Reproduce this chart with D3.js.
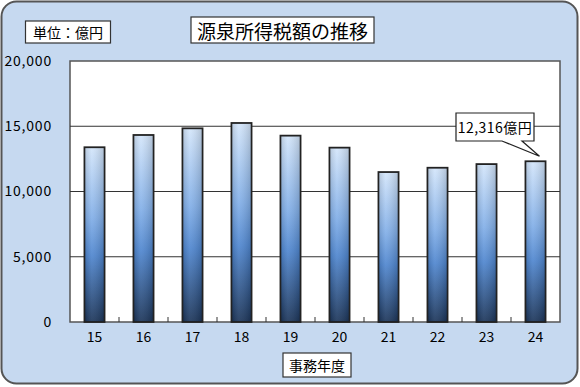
<!DOCTYPE html>
<html>
<head>
<meta charset="utf-8">
<script src="https://cdn.jsdelivr.net/npm/d3@7"></script>
<style>
body { margin:0; background:#fff; }
text { font-family:"Noto Sans CJK JP", "Noto Sans", sans-serif; }
</style>
</head>
<body>
<script>
var years = ['15','16','17','18','19','20','21','22','23','24'];
var values = [13390, 14330, 14840, 15250, 14280, 13360, 11490, 11820, 12100, 12316];
var yTicks = [0, 5000, 10000, 15000, 20000];

var W = 580, H = 387;
var margin = {left:70, right:20, top:61, bottom:65};

var svg = d3.select("body").append("svg")
	.attr("width", W)
	.attr("height", H);

var defs = svg.append("defs");
var grad = defs.append("linearGradient")
	.attr("id", "barGrad")
	.attr("x1", 0).attr("y1", 0).attr("x2", 0).attr("y2", 1);
grad.append("stop").attr("offset", "0%").attr("stop-color", "#d4e6fb");
grad.append("stop").attr("offset", "40%").attr("stop-color", "#82afe8");
grad.append("stop").attr("offset", "62%").attr("stop-color", "#4f86cf");
grad.append("stop").attr("offset", "100%").attr("stop-color", "#1c3559");

var shade = defs.append("linearGradient")
	.attr("id", "barShade")
	.attr("x1", 0).attr("y1", 0).attr("x2", 1).attr("y2", 0);
shade.append("stop").attr("offset", "0%").attr("stop-color", "#000").attr("stop-opacity", 0.12);
shade.append("stop").attr("offset", "35%").attr("stop-color", "#fff").attr("stop-opacity", 0.08);
shade.append("stop").attr("offset", "100%").attr("stop-color", "#000").attr("stop-opacity", 0.15);

// outer frame
svg.append("rect")
	.attr("x", 1.5).attr("y", 1.5)
	.attr("width", 576).attr("height", 382)
	.attr("rx", 15).attr("ry", 15)
	.attr("fill", "#c6d9f0")
	.attr("stroke", "#555").attr("stroke-width", 2);

var x = d3.scaleBand()
	.domain(years)
	.range([margin.left, W - margin.right])
	.paddingInner(0.59)
	.paddingOuter(0.295);

var y = d3.scaleLinear()
	.domain([0, 20000])
	.range([H - margin.bottom, margin.top]);

// plot area
svg.append("rect")
	.attr("x", margin.left).attr("y", margin.top)
	.attr("width", W - margin.left - margin.right)
	.attr("height", H - margin.top - margin.bottom)
	.attr("fill", "#fff")
	.attr("stroke", "#555").attr("stroke-width", 1.5);

// gridlines
svg.selectAll("line.grid")
	.data(yTicks.slice(1, 4))
	.enter().append("line")
	.attr("class", "grid")
	.attr("x1", margin.left).attr("x2", W - margin.right)
	.attr("y1", function(d){ return y(d); })
	.attr("y2", function(d){ return y(d); })
	.attr("stroke", "#333").attr("stroke-width", 1);

var yAxis = d3.axisLeft(y)
	.tickValues(yTicks)
	.tickSize(0)
	.tickPadding(18)
	.tickFormat(d3.format(","));

svg.append("g")
	.attr("transform", "translate(" + margin.left + ",0)")
	.call(yAxis)
	.call(function(g){ g.select(".domain").remove(); })
	.selectAll("text")
	.attr("font-size", 14)
	.attr("letter-spacing", 0.8)
	.attr("fill", "#000");

// small category ticks on bottom edge
var step = x.step();
svg.selectAll("line.cat")
	.data(years.slice(1))
	.enter().append("line")
	.attr("class", "cat")
	.attr("x1", function(d){ return x(d) - (step - x.bandwidth()) / 2; })
	.attr("x2", function(d){ return x(d) - (step - x.bandwidth()) / 2; })
	.attr("y1", y(0)).attr("y2", y(0) - 5)
	.attr("stroke", "#333");

var xAxis = d3.axisBottom(x).tickSize(0).tickPadding(10);
svg.append("g")
	.attr("transform", "translate(0," + y(0) + ")")
	.call(xAxis)
	.call(function(g){ g.select(".domain").remove(); })
	.selectAll("text")
	.attr("font-size", 14)
	.attr("fill", "#000");

// bars
svg.selectAll("rect.bar")
	.data(values)
	.enter().append("rect")
	.attr("class", "bar")
	.attr("x", function(d,i){ return x(years[i]); })
	.attr("y", function(d){ return y(d); })
	.attr("width", x.bandwidth())
	.attr("height", function(d){ return y(0) - y(d); })
	.attr("fill", "url(#barGrad)")
	.attr("stroke", "#222").attr("stroke-width", 1.8);

svg.selectAll("rect.shade")
	.data(values)
	.enter().append("rect")
	.attr("class", "shade")
	.attr("x", function(d,i){ return x(years[i]) + 1; })
	.attr("y", function(d){ return y(d) + 1; })
	.attr("width", x.bandwidth() - 2)
	.attr("height", function(d){ return y(0) - y(d) - 2; })
	.attr("fill", "url(#barShade)");

// text boxes
function labelBox(cx, cy, w, h, txt, size) {
	svg.append("rect")
		.attr("x", cx - w/2).attr("y", cy - h/2)
		.attr("width", w).attr("height", h)
		.attr("fill", "#fff").attr("stroke", "#333").attr("stroke-width", 1.2);
	svg.append("text")
		.attr("x", cx).attr("y", cy)
		.attr("text-anchor", "middle")
		.attr("dominant-baseline", "central")
		.attr("font-size", size)
		.text(txt);
}

labelBox(68, 32, 85, 22, "単位：億円", 14);
labelBox(282.5, 30, 183, 26, "源泉所得税額の推移", 19);
labelBox(317, 365, 68, 24, "事務年度", 14);

// callout for last bar
var last = values.length - 1;
var tipX = x(years[last]) + x.bandwidth() / 2 + 4, tipY = y(values[last]) - 5;
var bx = 456, by = 113, bw = 78, bh = 28;
svg.append("path")
	.attr("d", "M" + bx + "," + by + "h" + bw + "v" + bh + "h-" + 12 +
		"L" + tipX + "," + tipY + "L" + 502 + "," + (by + bh) + "H" + bx + "Z")
	.attr("fill", "#fff").attr("stroke", "#222").attr("stroke-width", 1.2);
svg.append("text")
	.attr("x", bx + bw/2).attr("y", by + bh/2)
	.attr("text-anchor", "middle")
	.attr("dominant-baseline", "central")
	.attr("font-size", 14)
	.attr("letter-spacing", 0.5)
	.text(d3.format(",")(values[last]) + "億円");
</script>
</body>
</html>
